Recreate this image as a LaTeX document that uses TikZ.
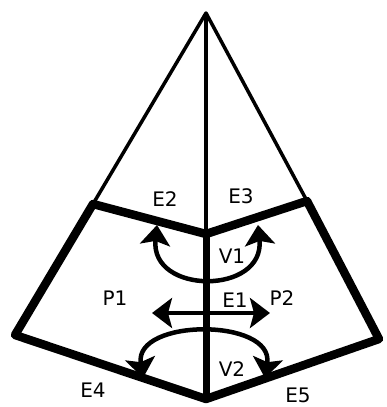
\documentclass[tikz,border=0pt]{standalone}
\usepackage{fontspec}
\setmainfont{DejaVu Sans}
\usetikzlibrary{arrows.meta}
\begin{document}
\begin{tikzpicture}[x=1pt,y=-1pt,
  thinedge/.style={line width=3.5pt,line join=round},
  thickedge/.style={line width=8.5pt,line join=round,line cap=round},
  arr/.style={line width=4.5pt,{Stealth[length=20pt,width=30pt,inset=4pt]}-{Stealth[length=20pt,width=30pt,inset=4pt]}},
  lbl/.style={font=\fontsize{20}{20}\selectfont,inner sep=0pt}]
\useasboundingbox (0,0) rectangle (386,407);
\coordinate (A) at (206,13);
\coordinate (L) at (93,204);
\coordinate (R) at (307,201);
\coordinate (C) at (206,234);
\coordinate (BL) at (15,335);
\coordinate (BR) at (379,339);
\coordinate (B) at (206,399);
% thin edges
\draw[thinedge] (L) -- (A) -- (R);
\draw[line width=4.5pt] (A) -- (C);
% thick edges
\draw[thickedge] (R) -- (C) -- (L) -- (BL) -- (B) -- (BR) -- cycle;
\draw[line width=7pt] (C) -- (B);
% arrows
\coordinate (v1a) at (157,225);
\coordinate (v1b) at (258,225);
\draw[arr] (v1a) .. controls (150,295) and (265,295) .. (v1b);
\coordinate (e1a) at (152,313);
\coordinate (e1b) at (270,313);
\draw[arr] (e1a) -- (e1b);
\coordinate (v2a) at (143,378);
\coordinate (v2b) at (265,378);
\draw[arr] (v2a) .. controls (134,318) and (274,318) .. (v2b);
% labels
\node[lbl] (E2) at (165,199) {E2};
\node[lbl] (E3) at (241,196) {E3};
\node[lbl] (V1) at (232,256) {V1};
\node[lbl] (P1) at (115,298) {P1};
\node[lbl] (E1) at (235,300) {E1};
\node[lbl] (P2) at (282,298) {P2};
\node[lbl] (V2) at (232,369) {V2};
\node[lbl] (E4) at (93,390) {E4};
\node[lbl] (E5) at (298,395) {E5};
\end{tikzpicture}
\end{document}
